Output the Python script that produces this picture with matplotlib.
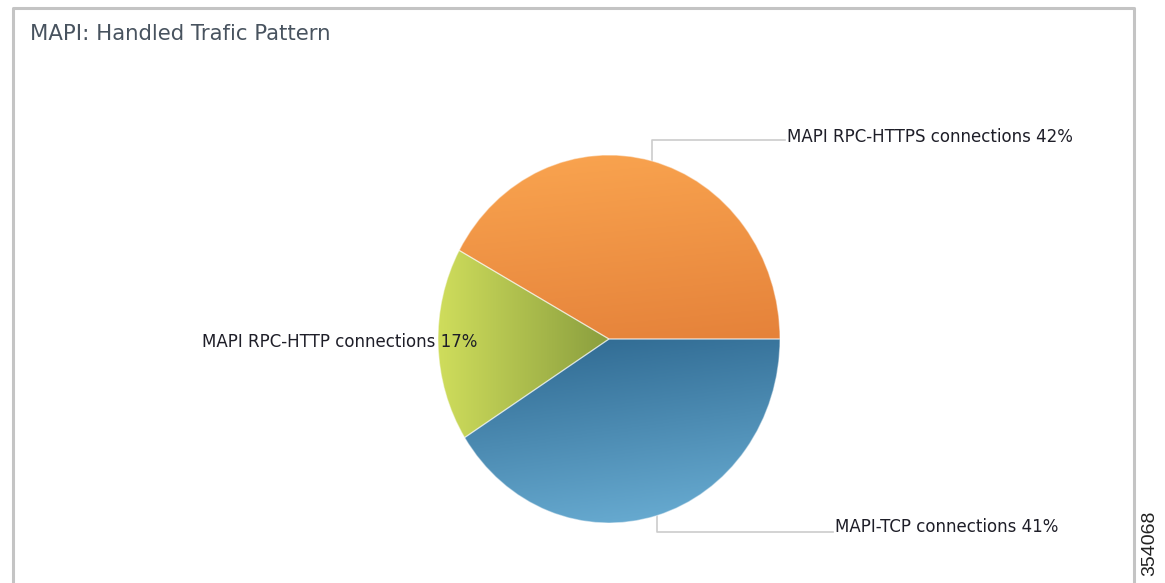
import numpy as np
import matplotlib
matplotlib.use('Agg')
import matplotlib.pyplot as plt
from matplotlib.colors import LinearSegmentedColormap
from matplotlib.lines import Line2D

# share of handled MAPI traffic, counter-clockwise from 3 o'clock
labels = ['MAPI RPC-HTTPS connections', 'MAPI RPC-HTTP connections', 'MAPI-TCP connections']
shares = [42, 17, 41]

# (start colour, end colour, gradient direction) per slice
shading = [('#e5823a', '#faa550', 'up'),
           ('#cfdd5c', '#8a9e3e', 'right'),
           ('#2c668e', '#6cb0d6', 'down')]

W, H = 1165, 583
fig = plt.figure(figsize=(W / 100, H / 100), dpi=100)
fig.patch.set_facecolor('white')

# panel frame (open at the bottom)
fx0, fx1, fy = 13 / W, 1134 / W, 1 - 8 / H
fig.add_artist(Line2D([fx0, fx0, fx1, fx1], [0, fy, fy, 0], transform=fig.transFigure,
                      color='#c4c4c4', lw=2.2))

fig.text(30 / W, 1 - 34 / H, 'MAPI: Handled Trafic Pattern', fontsize=15.3,
         color='#48535f', va='center', ha='left', family='DejaVu Sans')

fig.text(1150 / W, 1 - 543 / H, '354068', rotation=90, fontsize=14,
         color='#222222', va='center', ha='center', family='Liberation Sans')

# pie is slightly taller than wide
cx, cy, rx, ry = 609, 339, 171, 184
ax = fig.add_axes([(cx - rx) / W, (H - cy - ry) / H, 2 * rx / W, 2 * ry / H])
wedges, _ = ax.pie(shares, startangle=0, counterclock=True, radius=1,
                   wedgeprops=dict(linewidth=0.9, edgecolor=(1, 1, 1, 0.45)))
ax.set_aspect('auto')
ax.set_xlim(-1, 1)
ax.set_ylim(-1, 1)
ax.axis('off')

n = 300
gx, gy = np.meshgrid(np.linspace(0, 1, n), np.linspace(0, 1, n))
for w, (c0, c1, d) in zip(wedges, shading):
    cmap = LinearSegmentedColormap.from_list('s', [c0, c1])
    if d == 'up':
        g = np.clip((gy - 0.5) * 2, 0, 1) * 0.85 + (1 - gx) * 0.15
    elif d == 'down':
        g = np.clip((0.5 - gy) * 2, 0, 1) * 0.8 + gx * 0.2
    else:
        g = np.clip(gx / 0.5, 0, 1)
    im = ax.imshow(g, cmap=cmap, extent=(-1, 1, -1, 1), origin='lower',
                   interpolation='bilinear', zorder=1, aspect='auto')
    im.set_clip_path(w)
    w.set_facecolor('none')
    w.set_zorder(2)

# label positions in pixels: (elbow y, text x, text y) or None for no leader
lead = [(140, 787, 137), None, (532, 835, 527)]
cum = np.cumsum([0] + shares)
for i, (lab, s) in enumerate(zip(labels, shares)):
    mid = np.deg2rad((cum[i] + cum[i + 1]) / 2 / sum(shares) * 360)
    px, py = np.cos(mid), np.sin(mid)
    txt = f'{lab} {s}%'
    if lead[i] is None:
        ax.text(-0.77, -0.015, txt, ha='right', va='center', fontsize=12,
                color='#1e1e28', zorder=4, clip_on=False)
        continue
    ey, tx, ty = lead[i]
    ey_d = (cy - ey) / ry
    tx_d = (tx - cx) / rx
    ax.plot([px, px, tx_d - 0.01], [py, ey_d, ey_d], color='#cccccc', lw=1.2,
            clip_on=False, zorder=0, solid_joinstyle='round')
    ax.text(tx_d, (cy - ty) / ry, txt, ha='left', va='center', fontsize=12,
            color='#1e1e28', clip_on=False)

fig.savefig('out.png', dpi=100, facecolor='white')
